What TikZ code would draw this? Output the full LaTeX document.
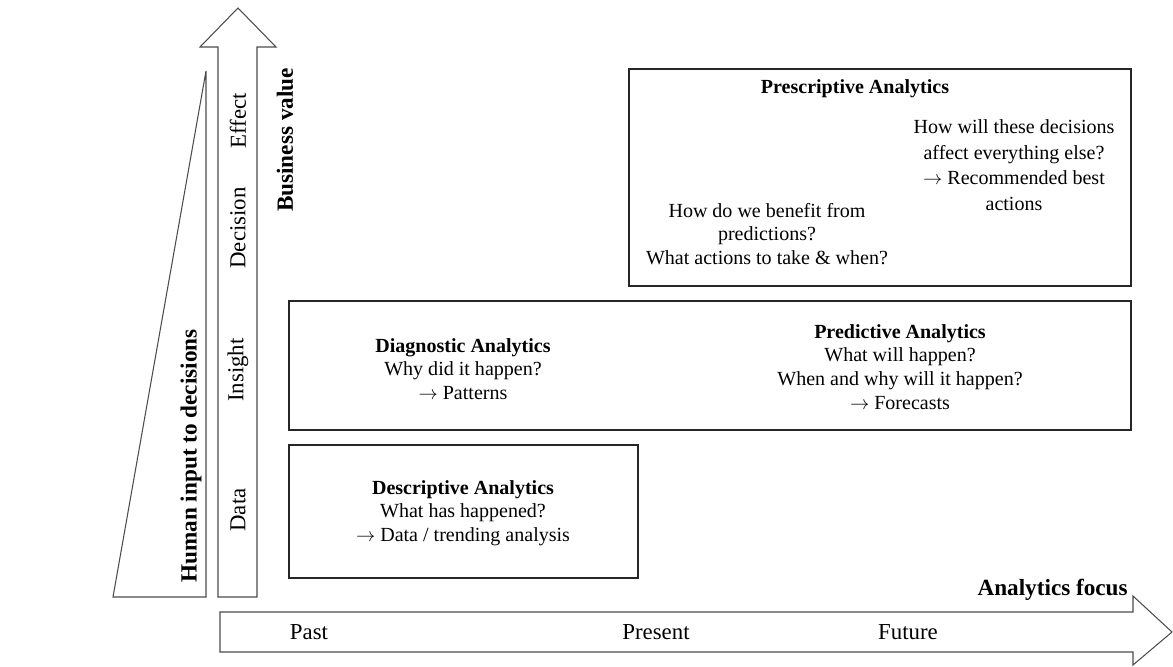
\documentclass[tikz,border=0pt]{standalone}
\usepackage{fontspec}
\setmainfont{Liberation Serif}
\usepackage{tikz}

\begin{document}
\begin{tikzpicture}[
  x=0.02cm, y=-0.02cm,
  panel/.style={draw=black!85, line width=0.8pt},
  bigarrow/.style={draw=black!70, line width=0.6pt, fill=white},
  boxtext/.style={align=center, inner sep=0pt, font=\fontsize{11.4}{13.5}\selectfont},
  axistext/.style={inner sep=0pt, font=\fontsize{13}{15}\selectfont},
  axistitle/.style={inner sep=0pt, font=\fontsize{13.2}{15}\selectfont\bfseries}
]
\useasboundingbox (0,0) rectangle (1173,666);

% vertical axis: human input and business value
\draw[bigarrow] (113,597) -- (206,597) -- (206,71) -- cycle;
\draw[bigarrow] (218,597) -- (218,47) -- (200,47) -- (238,8) -- (276,47) -- (257,47) -- (257,597) -- cycle;
\node[axistext, rotate=90] (data) at (238,510) {Data};
\node[axistext, rotate=90] (insight) at (238,370) {Insight};
\node[axistext, rotate=90] (decision) at (238,228) {Decision};
\node[axistext, rotate=90] (effect) at (238,121) {Effect};
\node[axistitle, rotate=90] (human) at (191,456) {Human input to decisions};
\node[axistitle, rotate=90] (value) at (285,140) {Business value};

% horizontal axis: analytics focus
\draw[bigarrow] (220,612) -- (1133,612) -- (1133,596) -- (1172,632) -- (1133,665) -- (1133,652) -- (220,652) -- cycle;
\node[axistext] (past) at (309,632) {Past};
\node[axistext] (present) at (656,632) {Present};
\node[axistext] (future) at (908,632) {Future};
\node[axistitle, anchor=east] (focus) at (1128,590) {Analytics focus};

% analytics panels
\draw[panel] (289,445) rectangle (638,578);
\draw[panel] (289,301) rectangle (1131,430);
\draw[panel] (629,69) rectangle (1131,286);

\node[boxtext] (descriptive) at (463,513) {\textbf{Descriptive Analytics}\\What has happened?\\$\rightarrow$ Data / trending analysis};
\node[boxtext] (diagnostic) at (463,369) {\textbf{Diagnostic Analytics}\\Why did it happen?\\$\rightarrow$ Patterns};
\node[boxtext] (predictive) at (900,367) {\textbf{Predictive Analytics}\\What will happen?\\When and why will it happen?\\$\rightarrow$ Forecasts};
\node[boxtext] (prescriptive) at (855,89) {\textbf{Prescriptive Analytics}};
\node[boxtext, font=\fontsize{11.4}{14.5}\selectfont] (effects) at (1014,165) {How will these decisions\\affect everything else?\\$\rightarrow$ Recommended best\\actions};
\node[boxtext] (benefit) at (767,234) {How do we benefit from\\predictions?\\What actions to take \& when?};

\end{tikzpicture}
\end{document}
